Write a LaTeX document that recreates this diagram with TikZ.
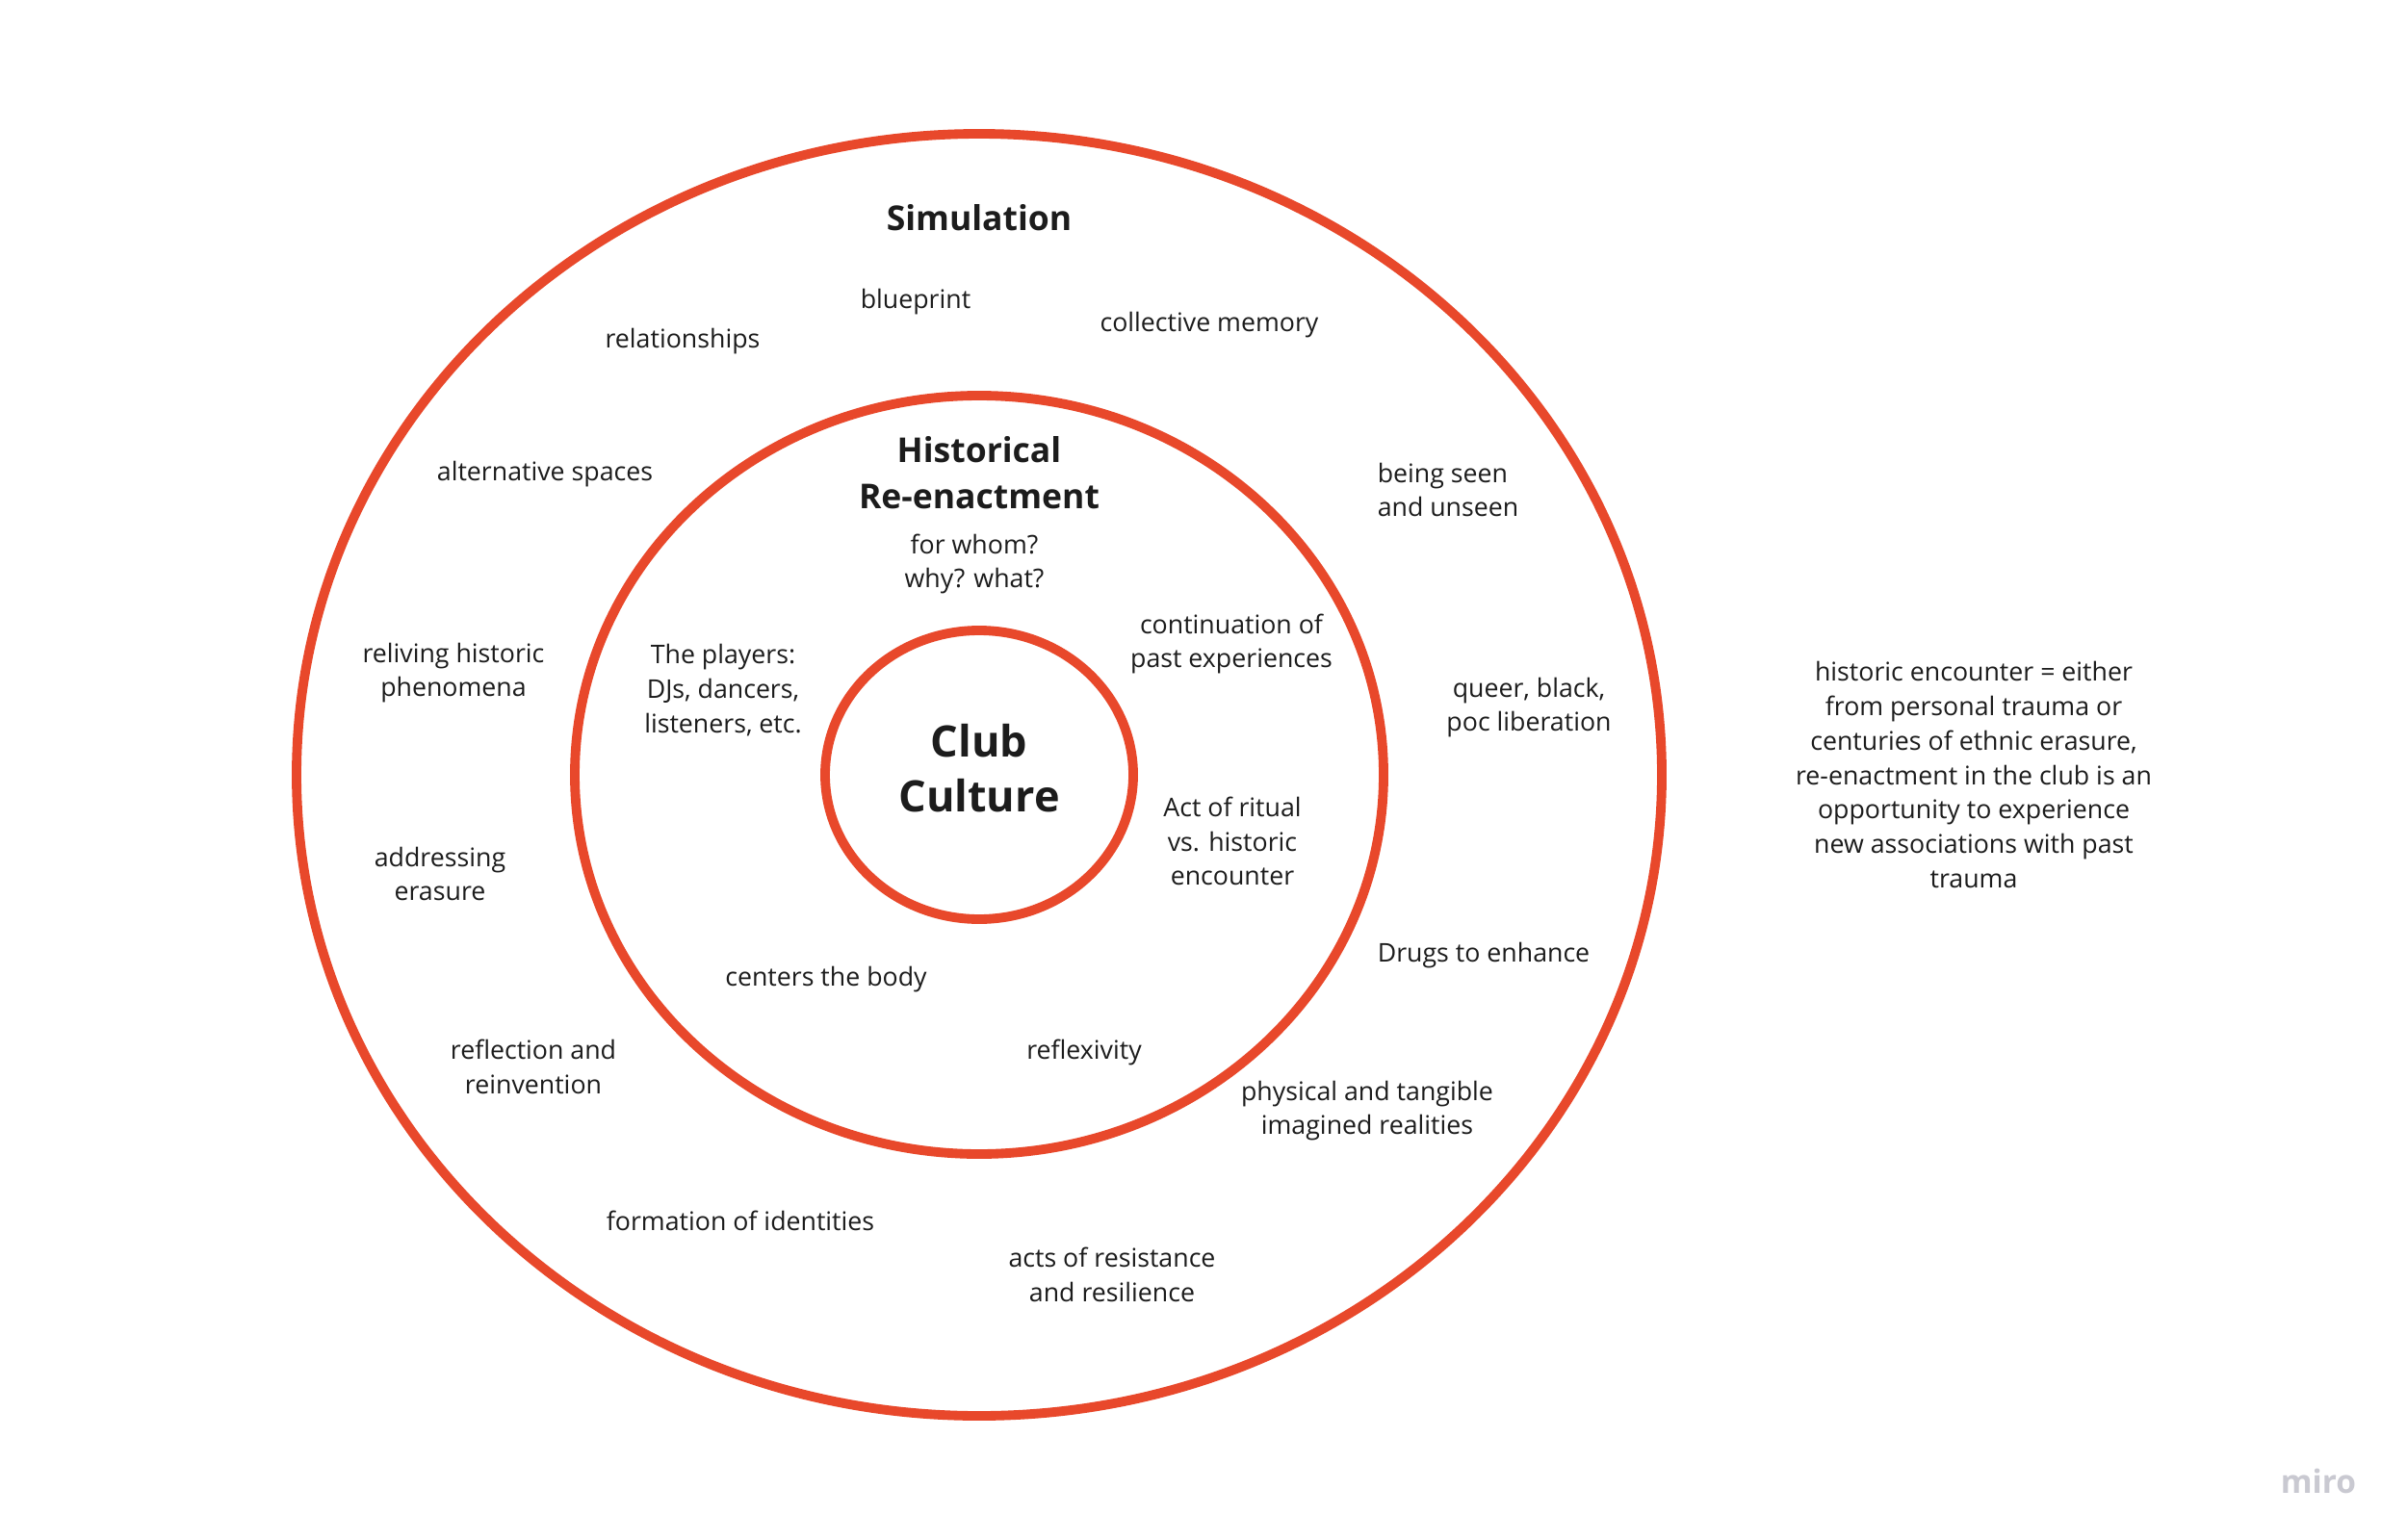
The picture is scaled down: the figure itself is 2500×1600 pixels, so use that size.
\documentclass[tikz,border=0pt]{standalone}
\usepackage{fontspec}
\setmainfont{Open Sans}
\definecolor{ring}{HTML}{E8482B}
\definecolor{ink}{HTML}{1C1C1C}
\definecolor{logo}{HTML}{C9C9D1}
\begin{document}
\begin{tikzpicture}[x=0.01cm,y=-0.01cm,
  ringline/.style={draw=ring,line width=2.8pt},
  lbl/.style={text=ink,align=center,inner sep=0pt,font=\fontsize{7.6}{10.2}\selectfont},
  lbll/.style={lbl,align=left},
  ttl/.style={text=ink,align=center,inner sep=0pt,font=\fontsize{10.1}{13.8}\selectfont\bfseries},
  big/.style={text=ink,align=center,inner sep=0pt,font=\fontsize{12.8}{16.4}\selectfont\bfseries}]
\useasboundingbox (0,0) rectangle (2500,1600);
\fill[white] (0,0) rectangle (2500,1600);
\begin{scope}[shift={(-4,0)}]
\coordinate (c) at (1021,805);
\draw[ringline] (c) ellipse [x radius=709, y radius=666];
\draw[ringline] (c) ellipse [x radius=420, y radius=394];
\draw[ringline] (c) ellipse [x radius=160, y radius=150];
\node[big] (club) at (1021,798) {Club\\Culture};
\node[ttl] (sim) at (1021,226) {Simulation};
\node[ttl] (hist) at (1021,491) {Historical\\Re-enactment};
\node[lbl] (blue) at (955,314) {blueprint};
\node[lbl] (rel) at (713,355) {relationships};
\node[lbl] (coll) at (1260,338) {collective memory};
\node[lbl] (alt) at (570,493) {alternative spaces};
\node[lbll] (seen) at (1508,509) {being seen\\and unseen};
\node[lbl] (whom) at (1016,586) {for whom?\\why? what?};
\node[lbl] (players) at (755,717) {The players:\\DJs, dancers,\\listeners, etc.};
\node[lbl] (cont) at (1283,669) {continuation of\\past experiences};
\node[lbl] (reliv) at (475,699) {reliving historic\\phenomena};
\node[lbl] (queer) at (1592,735) {queer, black,\\poc liberation};
\node[lbl] (act) at (1284,874) {Act of ritual\\vs. historic\\encounter};
\node[lbl] (addr) at (461,908) {addressing\\erasure};
\node[lbl] (drugs) at (1545,993) {Drugs to enhance};
\node[lbl] (body) at (862,1018) {centers the body};
\node[lbl] (refl) at (1130,1093) {reflexivity};
\node[lbl] (reinv) at (558,1108) {reflection and\\reinvention};
\node[lbl] (phys) at (1424,1154) {physical and tangible\\imagined realities};
\node[lbl] (form) at (773,1268) {formation of identities};
\node[lbl] (resist) at (1159,1324) {acts of resistance\\and resilience};
\node[lbl] (note) at (2054,805) {historic encounter = either\\from personal trauma or\\centuries of ethnic erasure,\\re-enactment in the club is an\\opportunity to experience\\new associations with past\\trauma};
\node[text=logo,inner sep=0pt,font=\fontsize{9.5}{11}\selectfont\bfseries] (miro) at (2412,1539) {miro};
\end{scope}
\end{tikzpicture}
\end{document}
